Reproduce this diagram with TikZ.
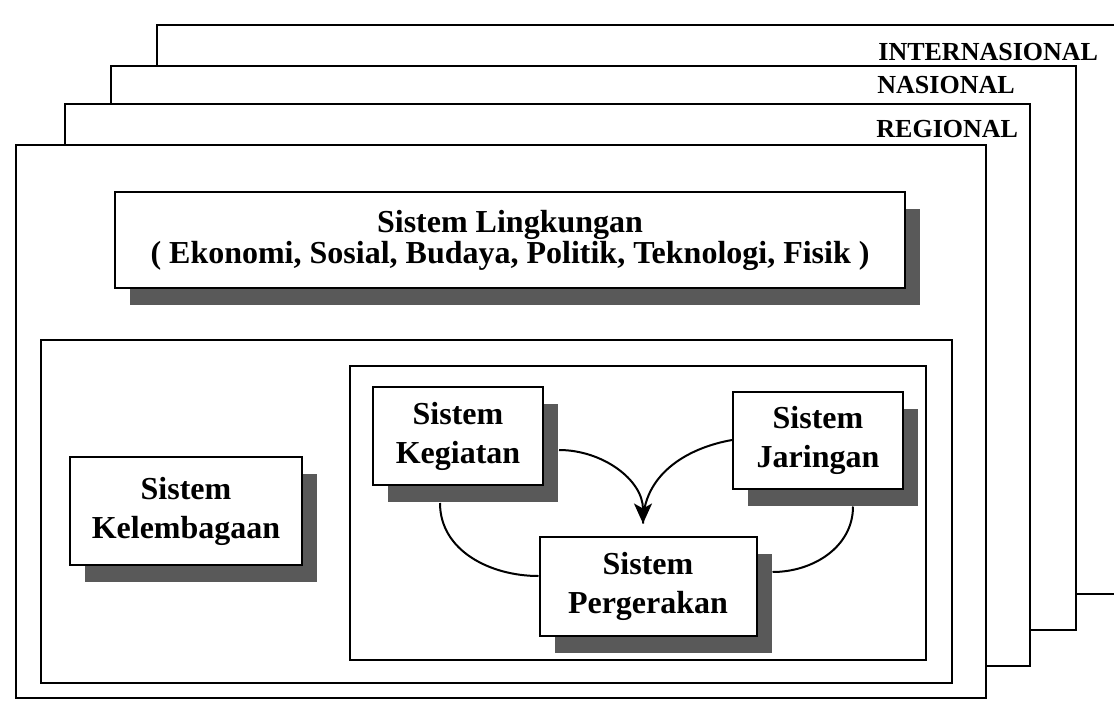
\documentclass[tikz,border=0pt]{standalone}
\usepackage{fontspec}
\setmainfont{Liberation Serif}
\usetikzlibrary{shadows,arrows.meta}

\tikzset{
  sheet/.style={draw, fill=white, line width=1.1pt},
  frame/.style={draw, line width=1.1pt},
  sysbox/.style={draw, fill=white, line width=1pt, align=center, inner sep=0pt,
    font=\fontsize{16}{19.5}\selectfont\bfseries,
    drop shadow={shadow xshift=7.5pt, shadow yshift=-8.5pt, fill=black!65, opacity=1}},
  scalelabel/.style={anchor=base west, inner sep=0pt, font=\fontsize{13}{15}\selectfont\bfseries},
  link/.style={line width=1pt}
}

\begin{document}
\begin{tikzpicture}[x=0.5pt,y=-0.5pt]
  \useasboundingbox (0,0) rectangle (1114,702);
  \clip (0,0) rectangle (1114,702);

  % stacked sheets, back to front
  \draw[sheet] (157,25) rectangle (1130,594);
  \draw[sheet] (111,66) rectangle (1076,630);
  \draw[sheet] (65,104) rectangle (1030,666);
  \draw[sheet] (16,145) rectangle (986,698);
  \node[scalelabel] (internasional) at (878,60) {INTERNASIONAL};
  \node[scalelabel] (nasional) at (877,93) {NASIONAL};
  \node[scalelabel] (regional) at (876,137) {REGIONAL};

  % containers
  \draw[frame] (41,340) rectangle (952,683);
  \draw[frame] (350,366) rectangle (926,660);

  % systems
  \node[sysbox, minimum width=395pt, minimum height=48pt,
        font=\fontsize{16}{15.5}\selectfont\bfseries] (lingkungan) at (510,240)
    {Sistem Lingkungan\\( Ekonomi, Sosial, Budaya, Politik, Teknologi, Fisik )};
  \node[sysbox, minimum width=116pt, minimum height=54pt] (kelembagaan) at (186,511)
    {Sistem\\Kelembagaan};
  \node[sysbox, minimum width=85pt, minimum height=49pt] (kegiatan) at (458,436)
    {Sistem\\Kegiatan};
  \node[sysbox, minimum width=85pt, minimum height=48.5pt] (jaringan) at (818,440)
    {Sistem\\Jaringan};
  \node[sysbox, minimum width=108.5pt, minimum height=49.5pt] (pergerakan) at (648,586)
    {Sistem\\Pergerakan};

  % links
  \coordinate (tip) at ([xshift=-2.5pt,yshift=6pt]pergerakan.north);
  \draw[link, -{Stealth[length=10pt,width=9pt,inset=2.5pt]}]
    ([xshift=7.5pt,yshift=-7pt]kegiatan.east) to[out=0,in=90] (tip);
  \draw[link] (jaringan.west) to[out=190,in=90] (tip);
  \draw[link] ([xshift=-9pt,yshift=-8.5pt]kegiatan.south) to[out=-90,in=180]
    ([yshift=5pt]pergerakan.west);
  \draw[link] ([xshift=17.5pt,yshift=-8.5pt]jaringan.south) to[out=-90,in=0]
    ([xshift=7.5pt,yshift=7pt]pergerakan.east);
\end{tikzpicture}
\end{document}
